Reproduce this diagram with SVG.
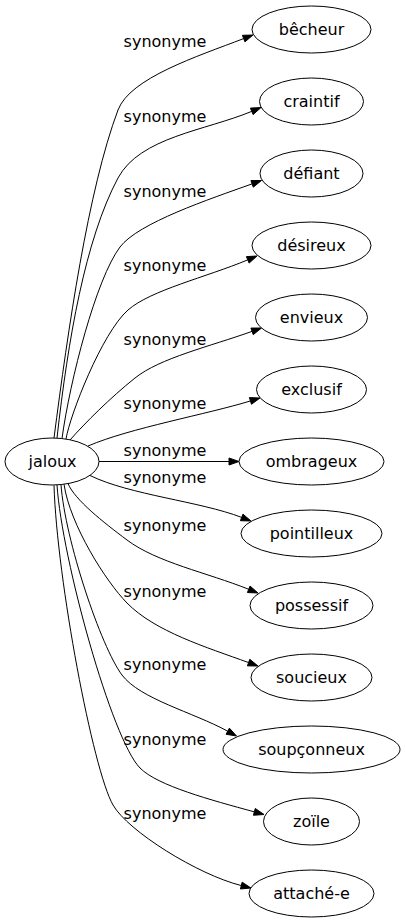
<svg xmlns="http://www.w3.org/2000/svg" width="405" height="923" viewBox="0 0 405 923">
<style>
.node ellipse{fill:#fff;stroke:#000;stroke-width:1}
.edge path{fill:none;stroke:#000;stroke-width:1}
.edge polygon{fill:#000;stroke:#000;stroke-width:1}
text{font-family:"DejaVu Sans","Liberation Sans",sans-serif;font-size:16px;fill:#000;text-anchor:middle}
</style>
<rect x="0" y="0" width="405" height="923" fill="#fff"/>
<g id="edges" class="edge">
<path d="M54,438 C68,330 88,190 118,110 C130,78 197,56.5 243.67,38.59"/>
<polygon points="253,35 244.93,41.86 242.41,35.32"/>
<text x="165" y="47">synonyme</text>
<path d="M57,438 C68,340 85,240 118,178 C140,137 205.6,130.6 251.77,111.35"/>
<polygon points="261,107.5 253.12,114.58 250.42,108.12"/>
<text x="165" y="122">synonyme</text>
<path d="M62,438.5 C70,380 96,279 120,247 C138,223 209.8,199 252.09,183.86"/>
<polygon points="261.5,180.5 253.27,187.15 250.91,180.57"/>
<text x="165" y="197">synonyme</text>
<path d="M66,439 C70,415 101.8,333.1 128,310 C150.5,290.2 206.2,277.2 247.77,259.85"/>
<polygon points="257,256 249.12,263.08 246.42,256.62"/>
<text x="165" y="271">synonyme</text>
<path d="M70,440 C85,423 110,398 135,378 C160,358 209.75,346.5 252.09,331.36"/>
<polygon points="261.5,328 253.27,334.65 250.91,328.07"/>
<text x="165" y="345">synonyme</text>
<path d="M88,446 C130,428 207.4,414.2 250.44,400.94"/>
<polygon points="260,398 251.47,404.29 249.41,397.59"/>
<text x="165" y="409">synonyme</text>
<path d="M99,461.5 L229,461.5"/>
<polygon points="239,461.5 229,465 229,458"/>
<text x="165" y="456">synonyme</text>
<path d="M90,475.5 C130,495 199.7,501.25 241.67,517.41"/>
<polygon points="251,521 240.41,520.68 242.93,514.14"/>
<text x="165" y="483">synonyme</text>
<path d="M68,483.6 C75,500 103,522 127,540 C157,562.5 207,572.6 248.72,589.29"/>
<polygon points="258,593 247.42,592.54 250.02,586.04"/>
<text x="165" y="531">synonyme</text>
<path d="M64,484.2 C70,525 106,581.6 127,603 C155,631.6 206.3,647.2 248.6,662.58"/>
<polygon points="258,666 247.4,665.87 249.8,659.29"/>
<text x="165" y="597">synonyme</text>
<path d="M61,484.6 C65,540 101,647 122,675 C140,699 192.6,712.05 227.72,731.21"/>
<polygon points="236.5,736 226.04,734.28 229.4,728.14"/>
<text x="165" y="670">synonyme</text>
<path d="M57,484.9 C62,560 112,739.6 140,768 C157.5,785.75 210.9,800 254.35,811.87"/>
<polygon points="264,814.5 253.43,815.25 255.27,808.49"/>
<text x="165" y="745">synonyme</text>
<path d="M54,485.4 C57,580 93,770.2 113,805 C128,831.1 197.65,874.6 241.3,885.57"/>
<polygon points="251,888 240.45,888.97 242.15,882.17"/>
<text x="165" y="819">synonyme</text>
</g>
<g id="jaloux" class="node"><ellipse cx="52" cy="461.5" rx="47" ry="23.5"/><text x="52.5" y="467">jaloux</text></g>
<g id="becheur" class="node"><ellipse cx="311.5" cy="29.5" rx="59.5" ry="23.5"/><text x="311.5" y="35">bêcheur</text></g>
<g id="craintif" class="node"><ellipse cx="311.5" cy="101.5" rx="52" ry="23.5"/><text x="311.5" y="107">craintif</text></g>
<g id="defiant" class="node"><ellipse cx="311.5" cy="173.5" rx="51.5" ry="23.5"/><text x="311.5" y="179">défiant</text></g>
<g id="desireux" class="node"><ellipse cx="311.5" cy="245.5" rx="59.5" ry="23.5"/><text x="311.5" y="251">désireux</text></g>
<g id="envieux" class="node"><ellipse cx="311.5" cy="317.5" rx="56" ry="23.5"/><text x="311.5" y="323">envieux</text></g>
<g id="exclusif" class="node"><ellipse cx="311.5" cy="389.5" rx="55" ry="23.5"/><text x="311.5" y="395">exclusif</text></g>
<g id="ombrageux" class="node"><ellipse cx="311.5" cy="461.5" rx="72.5" ry="23.5"/><text x="311.5" y="467">ombrageux</text></g>
<g id="pointilleux" class="node"><ellipse cx="311.5" cy="533.5" rx="70.5" ry="23.5"/><text x="311.5" y="539">pointilleux</text></g>
<g id="possessif" class="node"><ellipse cx="311.5" cy="605.5" rx="61.5" ry="23.5"/><text x="311.5" y="611">possessif</text></g>
<g id="soucieux" class="node"><ellipse cx="311.5" cy="677.5" rx="60.5" ry="23.5"/><text x="311.5" y="683">soucieux</text></g>
<g id="soupconneux" class="node"><ellipse cx="311.5" cy="749.5" rx="88.5" ry="23.5"/><text x="311.5" y="755">soupçonneux</text></g>
<g id="zoile" class="node"><ellipse cx="311.5" cy="821.5" rx="48" ry="23.5"/><text x="311.5" y="827">zoïle</text></g>
<g id="attache-e" class="node"><ellipse cx="311.5" cy="893.5" rx="62.5" ry="23.5"/><text x="311.5" y="899">attaché-e</text></g>
</svg>
